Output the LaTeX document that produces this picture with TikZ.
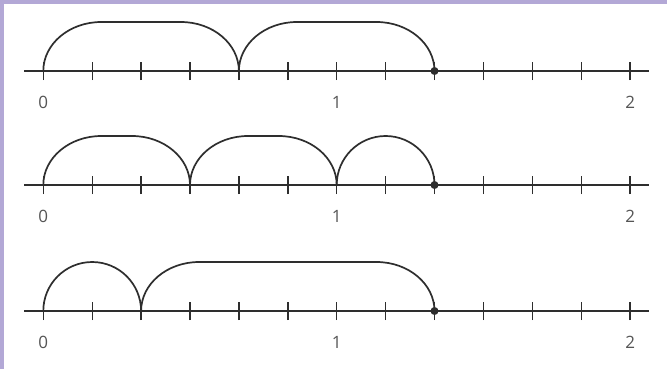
\documentclass[tikz,border=0pt]{standalone}
\usepackage{fontspec}
\setmainfont{Open Sans}
\definecolor{frame}{HTML}{B3A8D6}
\definecolor{ink}{HTML}{2E2E2E}
\definecolor{lbl}{HTML}{555555}
\tikzset{
  axisline/.style={draw=ink, line width=2.2bp},
  tickmark/.style={draw=ink, line width=1.4bp},
  jump/.style={draw=ink, line width=1.7bp},
  numlbl/.style={text=lbl, font=\fontsize{17bp}{19bp}\selectfont, inner sep=0pt},
  enddot/.style={circle, fill=ink, inner sep=0pt, minimum size=8bp}
}
% \hop{line}{from tick}{to tick}
\newcommand{\hop}[3]{%
  \pgfmathsetmacro{\xa}{43.3+48.9*#2}%
  \pgfmathsetmacro{\xb}{43.3+48.9*#3}%
  \pgfmathsetmacro{\rr}{min((\xb-\xa)/2,58)}%
  \pgfmathsetmacro{\xc}{\xb-\rr}%
  \draw[jump] (t#1-#2) arc[start angle=180,end angle=90,x radius=\rr,y radius=49]
     -- (\xc,\csname ly#1\endcsname+49) arc[start angle=90,end angle=0,x radius=\rr,y radius=49];}
\begin{document}
\begin{tikzpicture}[x=1bp,y=1bp]
\useasboundingbox (0,0) rectangle (667,369);
\fill[frame] (0,0) rectangle (667,369);
\fill[white] (4,0) rectangle (667,365);
\expandafter\def\csname lyA\endcsname{298}
\expandafter\def\csname lyB\endcsname{184}
\expandafter\def\csname lyC\endcsname{58}
\foreach \L/\y in {A/298,B/184,C/58}{
  \coordinate (s\L) at (24,\y);
  \coordinate (e\L) at (649,\y);
  \draw[axisline] (s\L) -- (e\L);
  \foreach \k in {0,...,12}{
    \coordinate (t\L-\k) at ({43.3+48.9*\k},\y);
    \draw[tickmark] ([yshift=-9bp]t\L-\k) -- ([yshift=9bp]t\L-\k);
  }
  \node[numlbl] (z\L) at ([yshift=-31bp]t\L-0) {0};
  \node[numlbl] (o\L) at ([yshift=-31bp]t\L-6) {1};
  \node[numlbl] (w\L) at ([yshift=-31bp]t\L-12) {2};
  \node[enddot] (d\L) at (t\L-8) {};
}
\hop{A}{0}{4}
\hop{A}{4}{8}
\hop{B}{0}{3}
\hop{B}{3}{6}
\hop{B}{6}{8}
\hop{C}{0}{2}
\hop{C}{2}{8}
\end{tikzpicture}
\end{document}
